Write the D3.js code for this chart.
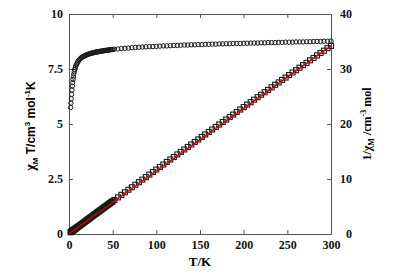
<!DOCTYPE html>
<html>
<head>
<meta charset="utf-8">
<script src="https://cdn.jsdelivr.net/npm/d3@7"></script>
<style>
  body { margin: 0; background: #fff; }
  .tick text { font-family: "Liberation Serif", serif; font-weight: bold; font-size: 12px; fill: #111; }
</style>
</head>
<body>
<div id="chart"></div>
<script>
// temperature (K) of each measurement
const temps = [1.8, 2.2, 2.6, 3.0, 3.4, 3.8, 4.2, 4.6, 5.0, 5.5, 6.0, 6.6, 7.2, 7.8, 8.5, 9.2, 10,
  11, 12, 13, 14, 15, 16, 17, 18, 19, 20, 21, 22, 23, 24, 25, 26, 27, 28, 29, 30, 31, 32, 33, 34, 35, 36, 37, 38, 39, 40, 41, 42, 43, 44, 45, 46, 47, 48, 49, 50,
  52, 56, 60, 64, 68, 72, 76, 80, 84, 88, 92, 96, 100, 104, 108, 112, 116, 120, 124, 128, 132, 136, 140, 144, 148, 152, 156, 160, 164, 168, 172, 176, 180, 184, 188, 192, 196, 200,
  204, 208, 212, 216, 220, 224, 228, 232, 236, 240, 244, 248, 252, 256, 260, 264, 268, 272, 276, 280, 284, 288, 292, 296, 300];
// chiM*T (cm3 mol-1 K), left axis
const chiT = [5.75, 5.95, 6.15, 6.35, 6.55, 6.72, 6.88, 7.02, 7.14, 7.27, 7.38, 7.48, 7.56, 7.63, 7.70, 7.76, 7.82,
  7.88, 7.93, 7.97, 8.01, 8.04, 8.06, 8.08, 8.10, 8.12, 8.14, 8.155, 8.17, 8.185, 8.20, 8.21, 8.22, 8.23, 8.24, 8.25, 8.26, 8.27, 8.275, 8.28, 8.29, 8.30, 8.305, 8.31, 8.32, 8.325, 8.33, 8.34, 8.345, 8.35, 8.355, 8.36, 8.37, 8.375, 8.38, 8.385, 8.39,
  8.40, 8.41, 8.43, 8.44, 8.45, 8.47, 8.48, 8.49, 8.50, 8.51, 8.52, 8.52, 8.53, 8.54, 8.55, 8.55, 8.56, 8.57, 8.57, 8.58, 8.59, 8.59, 8.60, 8.60, 8.61, 8.61, 8.62, 8.62, 8.63, 8.63, 8.64, 8.64, 8.65, 8.65, 8.66, 8.66, 8.66, 8.67,
  8.67, 8.68, 8.68, 8.68, 8.69, 8.69, 8.70, 8.70, 8.70, 8.71, 8.71, 8.72, 8.72, 8.72, 8.73, 8.73, 8.73, 8.74, 8.74, 8.75, 8.75, 8.75, 8.76, 8.76, 8.77];
// 1/chiM (cm-3 mol), right axis
const invChi = [0.31, 0.37, 0.42, 0.47, 0.52, 0.57, 0.61, 0.66, 0.70, 0.76, 0.81, 0.88, 0.95, 1.02, 1.10, 1.19, 1.28,
  1.40, 1.51, 1.63, 1.75, 1.87, 1.99, 2.10, 2.22, 2.34, 2.46, 2.58, 2.69, 2.81, 2.93, 3.05, 3.16, 3.28, 3.40, 3.52, 3.63, 3.75, 3.87, 3.99, 4.10, 4.22, 4.33, 4.45, 4.57, 4.68, 4.80, 4.92, 5.03, 5.15, 5.27, 5.38, 5.50, 5.61, 5.73, 5.84, 5.96,
  6.19, 6.66, 7.12, 7.58, 8.05, 8.50, 8.96, 9.42, 9.88, 10.34, 10.80, 11.27, 11.72, 12.18, 12.63, 13.10, 13.55, 14.00, 14.47, 14.92, 15.37, 15.83, 16.28, 16.74, 17.19, 17.65, 18.10, 18.56, 19.00, 19.46, 19.91, 20.37, 20.81, 21.26, 21.71, 22.17, 22.63, 23.07,
  23.53, 23.96, 24.42, 24.88, 25.32, 25.78, 26.21, 26.67, 27.13, 27.56, 28.02, 28.44, 28.90, 29.36, 29.78, 30.24, 30.70, 31.12, 31.58, 32.00, 32.46, 32.91, 33.33, 33.79, 34.20];
// Curie-Weiss fit line for 1/chiM
const fitT = [0, 300];
const fitInvChi = [0.05, 34.2];

const xTicks = [0, 50, 100, 150, 200, 250, 300];
const leftTicks = [0, 2.5, 5, 7.5, 10];
const rightTicks = [0, 10, 20, 30, 40];

const width = 405;
const height = 274;
const margin = {top: 14, right: 74, bottom: 40, left: 69};

const svg = d3.select('#chart')
  .append('svg')
    .attr('width', width)
    .attr('height', height);

const x = d3.scaleLinear().domain([0, 300]).range([margin.left, width - margin.right]);
const yLeft = d3.scaleLinear().domain([0, 10]).range([height - margin.bottom, margin.top]);
const yRight = d3.scaleLinear().domain([0, 40]).range([height - margin.bottom, margin.top]);

const axisColor = '#555';
const styleAxis = g => {
  g.select('.domain').attr('stroke', axisColor).attr('stroke-width', 1);
  g.selectAll('.tick line').attr('stroke', axisColor);
};

svg.append('g')
  .attr('transform', `translate(0, ${height - margin.bottom})`)
  .call(d3.axisBottom(x).tickValues(xTicks).tickSizeInner(-4).tickSizeOuter(0).tickPadding(6))
  .call(styleAxis);

svg.append('g')
  .attr('transform', `translate(0, ${margin.top})`)
  .call(d3.axisTop(x).tickValues(xTicks).tickSizeInner(-4).tickSizeOuter(0).tickFormat(''))
  .call(styleAxis);

svg.append('g')
  .attr('transform', `translate(${margin.left}, 0)`)
  .call(d3.axisLeft(yLeft).tickValues(leftTicks).tickSizeInner(-4).tickSizeOuter(0).tickPadding(6).tickFormat(d3.format('')))
  .call(styleAxis);

// right axis labels are right-aligned, as in the original
svg.append('g')
  .attr('transform', `translate(${width - margin.right}, 0)`)
  .call(d3.axisRight(yRight).tickValues(rightTicks).tickSizeInner(-4).tickSizeOuter(0))
  .call(styleAxis)
  .call(g => g.selectAll('.tick text').attr('x', 21).attr('text-anchor', 'end'));

svg.selectAll('.tick text').attr('font-family', null).attr('font-size', null);

// 1/chi squares
svg.append('g')
  .selectAll('rect')
  .data(temps)
  .join('rect')
    .attr('x', (d, i) => x(d) - 2.5)
    .attr('y', (d, i) => yRight(invChi[i]) - 2.5)
    .attr('width', 5)
    .attr('height', 5)
    .attr('fill', 'none')
    .attr('stroke', '#1a1a1a')
    .attr('stroke-width', 1.1);

// fit line
svg.append('path')
  .datum(fitT.map((t, i) => [t, fitInvChi[i]]))
  .attr('d', d3.line().x(d => x(d[0])).y(d => yRight(d[1])))
  .attr('fill', 'none')
  .attr('stroke', '#d40000')
  .attr('stroke-width', 1.4);

// chiT circles
svg.append('g')
  .selectAll('circle')
  .data(temps)
  .join('circle')
    .attr('cx', d => x(d))
    .attr('cy', (d, i) => yLeft(chiT[i]))
    .attr('r', 2.2)
    .attr('fill', 'none')
    .attr('stroke', '#1a1a1a')
    .attr('stroke-width', 1.0);

// axis titles
svg.append('text')
  .attr('x', (margin.left + width - margin.right) / 2)
  .attr('y', 266)
  .attr('text-anchor', 'middle')
  .attr('font-family', 'Liberation Serif, serif')
  .attr('font-weight', 'bold')
  .attr('font-size', 13)
  .text('T/K');

const leftTitle = svg.append('text')
  .attr('transform', 'translate(35, 126) rotate(-90)')
  .attr('text-anchor', 'middle')
  .attr('font-family', 'Liberation Sans, Arial, sans-serif')
  .attr('font-weight', 'bold')
  .attr('font-size', 12);
leftTitle.append('tspan').attr('font-family', 'Liberation Serif, serif').attr('font-size', 14).text('χ');
leftTitle.append('tspan').attr('font-size', 8).attr('dy', 3).text('M');
leftTitle.append('tspan').attr('dy', -3).text(' T/cm');
leftTitle.append('tspan').attr('font-size', 8).attr('dy', -5).text('3');
leftTitle.append('tspan').attr('dy', 5).text(' mol');
leftTitle.append('tspan').attr('font-size', 8).attr('dy', -5).text('-1');
leftTitle.append('tspan').attr('dy', 5).text('K');

const rightTitle = svg.append('text')
  .attr('transform', 'translate(371, 124) rotate(-90)')
  .attr('text-anchor', 'middle')
  .attr('font-family', 'Liberation Serif, serif')
  .attr('font-weight', 'bold')
  .attr('font-size', 12);
rightTitle.append('tspan').text('1/χ');
rightTitle.append('tspan').attr('font-size', 8).attr('dy', 3).text('M');
rightTitle.append('tspan').attr('dy', -3).text(' /cm');
rightTitle.append('tspan').attr('font-size', 8).attr('dy', -5).text('-3');
rightTitle.append('tspan').attr('dy', 5).text(' mol');
</script>
</body>
</html>
